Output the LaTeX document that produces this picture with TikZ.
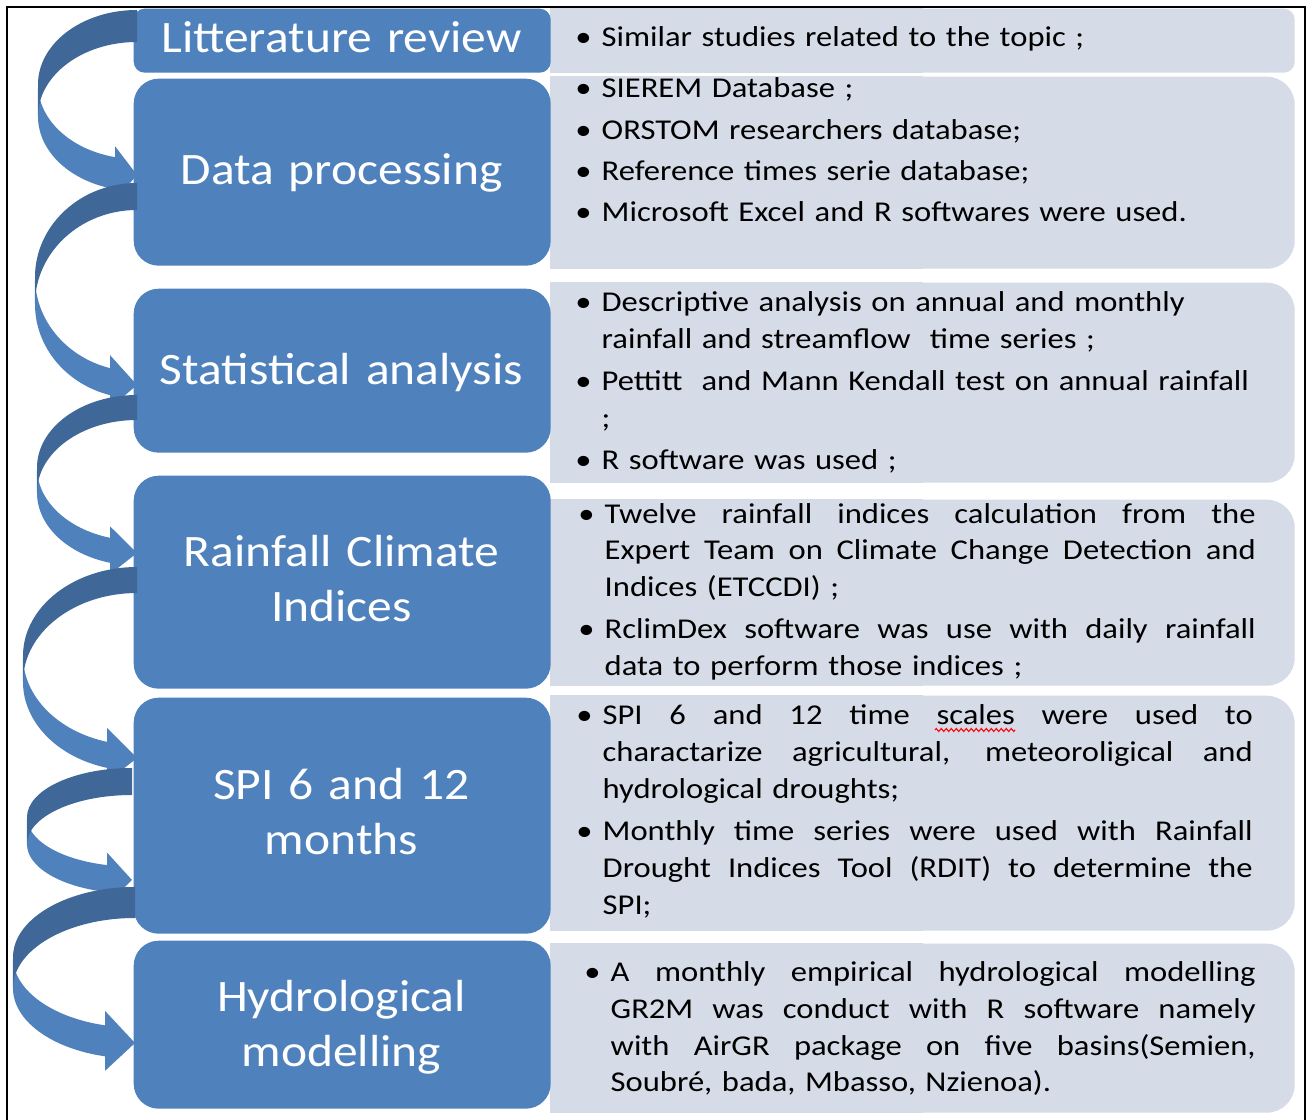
\documentclass[tikz,border=0pt]{standalone}
\usepackage{fontspec}
\usepackage{tikz}
\usetikzlibrary{decorations.pathmorphing}
\setmainfont{Carlito}
\newfontfamily\stepfont[FakeStretch=1.1]{Carlito}
\newfontfamily\notefont[FakeStretch=1.135]{Carlito}
\definecolor{stepblue}{HTML}{4F81BD}
\definecolor{stepdark}{HTML}{3F6797}
\definecolor{notefill}{HTML}{D5DCE8}

% bullet hanging in the left margin, justified line
\newcommand\bul{\leavevmode\llap{\textbullet\hspace{1mm}}}
\newcommand\jl[2][65.1mm]{\begingroup\spaceskip=\fontdimen2\font plus 1fil\relax
  \makebox[#1][s]{#2}\endgroup}

% curved arrow: tip x, top y, x radius, y radius, band, head width, head length
\newcommand\curvedarrow[7]{%
  \pgfmathsetmacro\arL{#1-#3}%
  \pgfmathsetmacro\arCa{#2+#4}%
  \pgfmathsetmacro\arCb{#2+#4+#5}%
  \pgfmathsetmacro\arAng{acos(-#7/#3)}%
  \pgfmathsetmacro\arXh{#1-#7}%
  \pgfmathsetmacro\arYa{\arCa+#4*sin(\arAng)}%
  \pgfmathsetmacro\arYb{\arYa+#5}%
  \pgfmathsetmacro\arDh{(#6-#5)/2}%
  \pgfmathsetmacro\arTip{#2+2*#4+#5/2}%
  \fill[stepblue] (\arL,\arCa) arc[start angle=180, end angle=\arAng, x radius=#3, y radius=#4]
    -- (\arXh,\arYa-\arDh) -- (#1,\arTip) -- (\arXh,\arYb+\arDh) -- (\arXh,\arYb)
    arc[start angle=\arAng, end angle=180, x radius=#3, y radius=#4] -- cycle;
  \fill[stepdark] (#1,#2) arc[start angle=270, end angle=180, x radius=#3, y radius=#4]
    -- (\arL,\arCb) arc[start angle=180, end angle=270, x radius=#3, y radius=#4] -- cycle;
}

\begin{document}
\begin{tikzpicture}[x=0.1mm, y=-0.1mm,
  stepbox/.style={fill=stepblue, rounded corners=2.5mm, minimum width=41.7mm, anchor=north west, inner sep=0pt},
  notebox/.style={fill=notefill, rounded corners=2.8mm, minimum width=74.4mm, anchor=north west, inner sep=0pt},
  steptext/.style={anchor=base, text width=41mm, align=center, inner sep=0pt, text=white,
    font=\stepfont\fontsize{12.8}{15.65}\selectfont},
  notetext/.style={anchor=base west, text width=70mm, align=left, inner sep=0pt,
    font=\notefont\fontsize{8.17}{10.44}\selectfont}
]
\useasboundingbox (0,0) rectangle (1312,1120);
\fill[white] (0,0) rectangle (1312,1120);
\draw[line width=0.7pt] (7,1120) -- (7,7) -- (1305,7) -- (1305,1120);

% detail panels
\node[notebox, rounded corners=1.1mm, minimum height=6.4mm] (r1) at (550,8) {};
\node[notebox, minimum height=19.2mm] (r2) at (550,76) {};
\node[notebox, minimum height=20mm] (r3) at (550,282) {};
\node[notebox, minimum height=18.6mm] (r4) at (550,499) {};
\node[notebox, minimum height=23.5mm] (r5) at (550,695) {};
\node[notebox, minimum height=16.9mm] (r6) at (550,943) {};
\foreach \n in {r1,r2,r3,r4,r5,r6}
  \fill[notefill] (\n.north west) rectangle (\n.south);

% step boxes
\node[stepbox, rounded corners=1.1mm, minimum height=6.4mm] (b1) at (133,8) {};
\node[stepbox, minimum height=18.7mm] (b2) at (133,78) {};
\node[stepbox, minimum height=16.4mm] (b3) at (133,288) {};
\node[stepbox, minimum height=21.3mm] (b4) at (133,475) {};
\node[stepbox, minimum height=23.6mm] (b5) at (133,697) {};
\node[stepbox, minimum height=16.8mm] (b6) at (133,940) {};

% arrows between the steps
\curvedarrow{137}{10}{99}{74.5}{32}{54}{22}
\curvedarrow{137}{183}{102}{94.25}{27}{53}{27}
\curvedarrow{137}{395}{100}{72.75}{25}{48}{27}
\curvedarrow{137}{567}{114}{89}{26}{54}{30}
\curvedarrow{132}{768}{105}{49.25}{27}{52}{25}
\curvedarrow{135}{887}{122}{70.25}{31}{60}{30}

\node[steptext] (t1) at (341.5,52.7) {Litterature review};
\node[steptext] (t2) at (341.5,185) {Data processing};
\node[steptext] (t3) at (341.5,385) {Statistical analysis};
\node[steptext] (t4) at (341.5,566.7) {Rainfall Climate\\Indices};
\node[steptext] (t5) at (341.5,800) {SPI 6 and 12\\months};
\node[steptext] (t6) at (341.5,1011.7) {Hydrological\\modelling};

\node[notetext] (n1) at (601,46.7) {\bul Similar studies related to the topic ;};
\node[notetext] (n2) at (601,98) {\bul SIEREM Database ;\\[1.3pt]
  \bul ORSTOM researchers database;\\[1.3pt]
  \bul Reference times serie database;\\[1.3pt]
  \bul Microsoft Excel and R softwares were used.};
\node[notetext] (n3) at (601,311.7) {\bul Descriptive analysis on annual and monthly\\
  rainfall and streamflow\ \ time series ;\\[1.6pt]
  \bul Pettitt\ \ and Mann Kendall test on annual rainfall\\
  ;\\[1.6pt]
  \bul R software was used ;};
\node[notetext] (n4) at (604,523.3) {\bul\jl{Twelve rainfall indices calculation from the}\\
  \jl{Expert Team on Climate Change Detection and}\\
  Indices (ETCCDI) ;\\[1.6pt]
  \bul\jl{RclimDex software was use with daily rainfall}\\
  data to perform those indices ;};
\node[notetext] (n5) at (602,725) {\bul\jl[65mm]{SPI 6 and 12 time scales were used to}\\
  \jl[65mm]{charactarize agricultural, meteoroligical and}\\
  hydrological droughts;\\[1.6pt]
  \bul\jl[65mm]{Monthly time series were used with Rainfall}\\
  \jl[65mm]{Drought Indices Tool (RDIT) to determine the}\\
  SPI;};
\node[notetext] (n6) at (610,981.7) {\bul\jl[64.5mm]{A monthly empirical hydrological modelling}\\
  \jl[64.5mm]{GR2M was conduct with R software namely}\\
  \jl[64.5mm]{with AirGR package on five basins(Semien,}\\
  Soubré, bada, Mbasso, Nzienoa).};

% spell-check wave under "scales"
\coordinate (w1) at (935,730);
\coordinate (w2) at (1015,730);
\draw[red, line width=0.3pt, decorate, decoration={zigzag, amplitude=0.15mm, segment length=0.5mm}] (w1) -- (w2);
\end{tikzpicture}
\end{document}
